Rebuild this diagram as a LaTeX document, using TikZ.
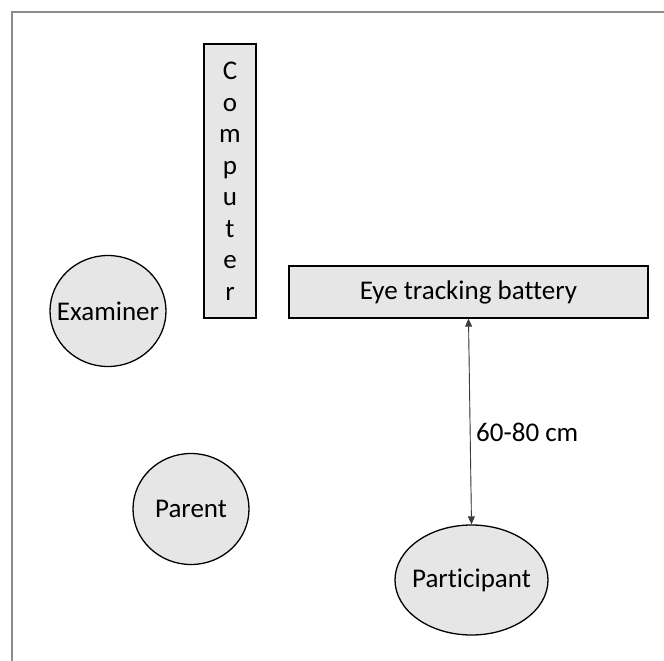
\documentclass[tikz,border=0pt]{standalone}
\usepackage{fontspec}
\setmainfont{Carlito}[Ligatures={NoCommon}]
\usetikzlibrary{arrows.meta,shapes.geometric}
\definecolor{boxgray}{RGB}{230,230,230}
\definecolor{framegray}{RGB}{140,140,140}
\definecolor{arrowgray}{RGB}{60,60,60}
\newcommand{\zw}[1]{\makebox[0pt]{#1}}
\begin{document}
\begin{tikzpicture}[x=1pt,y=-1pt,
  shapebox/.style={draw=black, line width=1.3pt, fill=boxgray, inner sep=0pt},
  person/.style={ellipse, draw=black, line width=1.3pt, fill=boxgray, inner sep=0pt},
  lbl/.style={font=\fontsize{27}{31.5}\selectfont}]
\useasboundingbox (0,0) rectangle (664,661);
\draw[framegray, line width=2.5pt] (664,12) -- (12,12) -- (12,661);
\node[shapebox, lbl, minimum width=52pt, minimum height=274pt, align=center] (computer) at (230,181) {C\\o\\m\\p\\u\\t\\e\\r};
\node[shapebox, lbl, minimum width=359pt, minimum height=52pt] (battery) at (468.5,292) {Eye tracking battery};
\node[person, lbl, minimum width=116pt, minimum height=111pt] (examiner) at (108,311) {\zw{Examiner}};
\node[person, lbl, minimum width=116pt, minimum height=111pt] (parent) at (191,509) {\zw{Parent}};
\node[person, lbl, minimum width=153pt, minimum height=110pt] (participant) at (471.5,580) {\zw{Participant}};
\draw[{Triangle[width=7pt,length=8pt]}-{Triangle[width=7pt,length=8pt]}, line width=0.9pt, draw=arrowgray, fill=black] (battery.south) -- (participant.north);
\node[lbl, anchor=west, inner sep=0pt] (dist) at (476,432) {60-80 cm};
\end{tikzpicture}
\end{document}
